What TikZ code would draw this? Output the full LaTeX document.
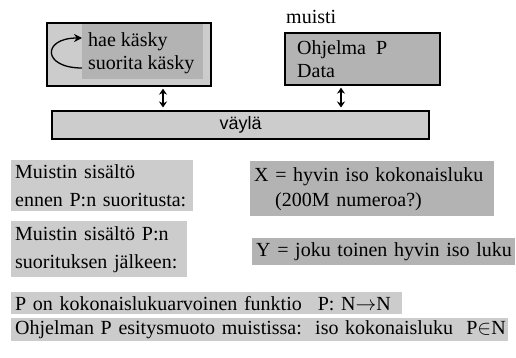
\documentclass[tikz,border=0pt]{standalone}
\usepackage{fontspec}
\setmainfont{Liberation Serif}
\newfontfamily\vaylafont{Liberation Sans}
\usetikzlibrary{positioning,arrows.meta}
\definecolor{vaalea}{HTML}{CCCCCC}
\definecolor{tumma}{HTML}{B3B3B3}

\begin{document}
\begin{tikzpicture}[x=1pt,y=-1pt,
            every node/.style = {font=\fontsize{20}{23}\selectfont, inner sep=0pt},
            kehys/.style = {draw, line width=2.2pt},
            laatikko/.style = {anchor=north west, align=left, inner xsep=4pt},
            nuoli/.style = {{Stealth[length=6pt,width=8pt]}-{Stealth[length=6pt,width=8pt]}, line width=1.3pt, shorten <=1.5pt, shorten >=2.5pt}]
\useasboundingbox (0,0) rectangle (516,358);

% prosessori
\node[kehys, fill=vaalea, anchor=north west, minimum width=164, minimum height=63] (cpu) at (46,22) {};
\node[fill=tumma, anchor=north west, minimum width=121, minimum height=55] (ohjaus) at (82,24) {};
\node[anchor=west, inner xsep=6pt] (hae) at (82,42) {hae käsky};
\node[anchor=west, inner xsep=6pt] (suorita) at (82,65) {suorita käsky};
\draw[-{Stealth[length=8pt,width=8pt]}, line width=1.3pt]
    ([yshift=-3pt]suorita.west) .. controls +(-40,0) and +(-40,0) .. ([yshift=4pt]hae.west);

% muisti
\node[anchor=west] (muistinimi) at (286,17) {muisti};
\node[kehys, fill=tumma, anchor=north west, minimum width=155, minimum height=52] (muisti) at (284,32) {};
\node[anchor=west, align=left] (muistisisalto) at (297,59.5) {Ohjelma\ \ P\\Data};

% väylä
\node[kehys, fill=vaalea, anchor=north west, minimum width=377, minimum height=28,
      font=\vaylafont\fontsize{18}{20}\selectfont] (vayla) at (51,110) {väylä};

\coordinate (cpuportti) at (163,0);
\coordinate (muistiportti) at (341,0);
\draw[nuoli] (cpu.south -| cpuportti) -- (vayla.north -| cpuportti);
\draw[nuoli] (muisti.south -| muistiportti) -- (vayla.north -| muistiportti);

% muistin sisältö ennen ja jälkeen
\node[laatikko, fill=vaalea, minimum width=182, minimum height=51, text width=174,
      font=\fontsize{20}{28}\selectfont] (ennen) at (11,160)
    {\mbox{Muistin sisältö}\\\mbox{ennen P:n suoritusta:}};
\node[laatikko, fill=tumma, minimum width=244, minimum height=55, text width=236,
      font=\fontsize{20}{25}\selectfont] (xarvo) at (250,161)
    {\mbox{X = hyvin iso kokonaisluku}\\\hspace*{21pt}\mbox{(200M numeroa?)}};
\node[laatikko, fill=vaalea, minimum width=176, minimum height=56, text width=168,
      font=\fontsize{20}{28}\selectfont] (jalkeen) at (11,221)
    {\mbox{Muistin sisältö P:n}\\\mbox{suorituksen jälkeen:}};
\node[laatikko, fill=tumma, minimum width=263, minimum height=27, text width=255] (yarvo) at (252,238)
    {\mbox{Y = joku toinen hyvin iso luku}};

% funktio ja esitysmuoto
\node[laatikko, fill=vaalea, minimum width=391, minimum height=22, text width=383] (funktio) at (11,292)
    {\mbox{P on kokonaislukuarvoinen funktio\hspace{0.8em}P: N$\rightarrow$N}};
\node[laatikko, fill=vaalea, minimum width=497, minimum height=23, text width=489] (esitys) at (11,318)
    {\mbox{Ohjelman P esitysmuoto muistissa:\ \ iso kokonaisluku\ \ P$\in$N}};

\end{tikzpicture}
\end{document}
